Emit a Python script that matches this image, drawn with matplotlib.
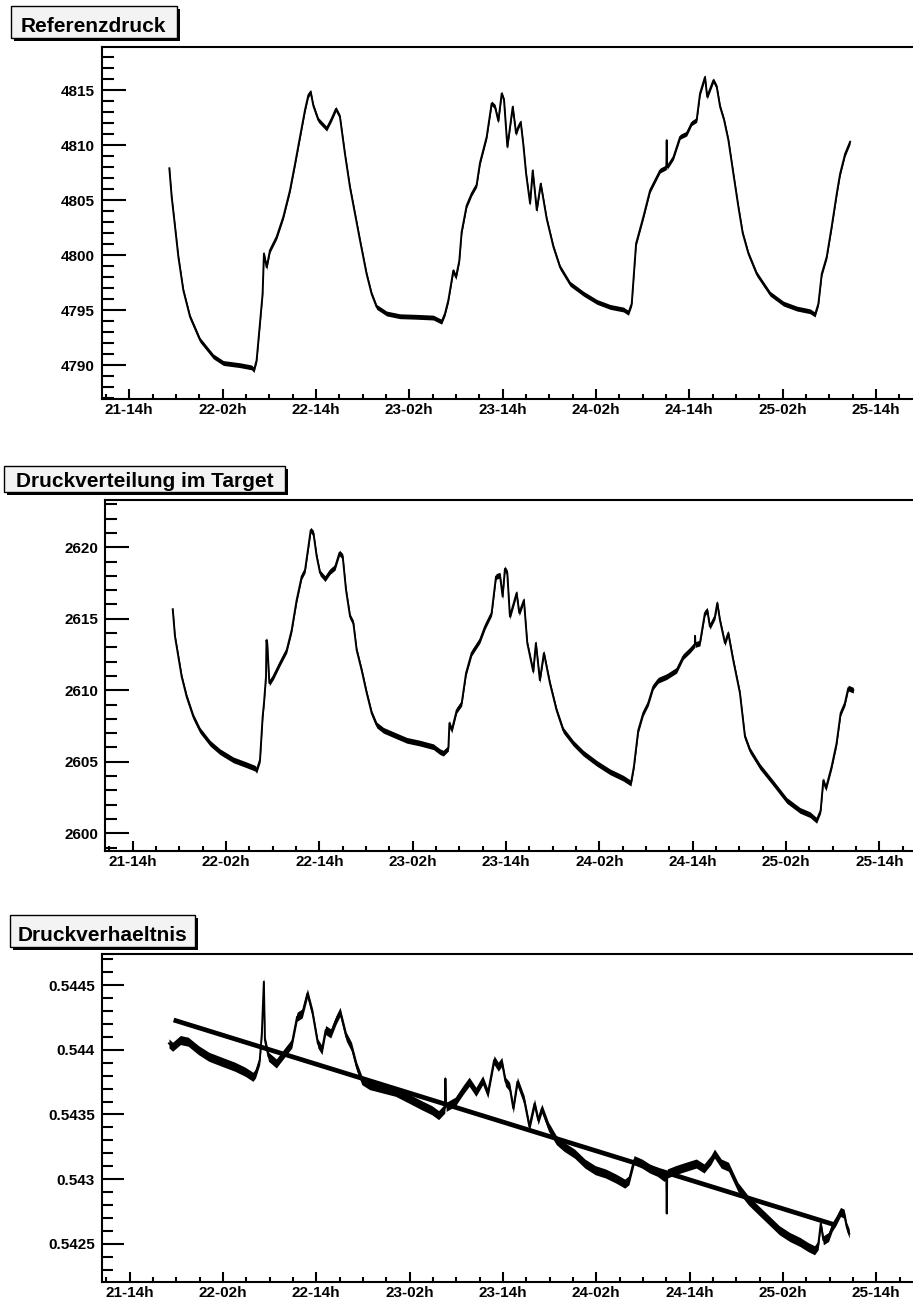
import numpy as np
import matplotlib
matplotlib.use("Agg")
import matplotlib.pyplot as plt
import matplotlib.patches as patches
from matplotlib.ticker import MultipleLocator, FixedLocator, FuncFormatter

plt.rcParams['font.family'] = ['Liberation Sans', 'DejaVu Sans']
plt.rcParams['font.weight'] = 'bold'

# time axis in hours counted from day 21, 00:00
time_ticks = [14, 26, 38, 50, 62, 74, 86, 98, 110]
time_labels = ["21-14h", "22-02h", "22-14h", "23-02h", "23-14h",
               "24-02h", "24-14h", "25-02h", "25-14h"]

# Referenzdruck
ref_t = [19.15, 19.45, 19.88, 20.31, 20.95, 21.81, 23.09, 24.8, 26.09, 28.23,
         29.73, 30.03, 30.37, 30.8, 31.14, 31.31, 31.66, 32.09, 32.95, 33.81,
         34.66, 35.31, 35.95, 36.59, 37.02, 37.32, 37.66, 38.3, 39.37, 40.01,
         40.57, 41.08, 41.73, 42.37, 43.01, 43.65, 44.51, 45.15, 45.8, 47.08,
         48.8, 50.94, 53.08, 54.16, 54.59, 55.02, 55.66, 56.0, 56.43, 56.73,
         57.37, 58.02, 58.66, 59.09, 59.95, 60.59, 61.02, 61.45, 61.88, 62.18,
         62.61, 63.3, 63.73, 64.03, 64.33, 64.67, 65.02, 65.53, 65.87, 66.39,
         66.9, 67.67, 68.53, 69.39, 70.67, 72.39, 74.1, 75.82, 77.53, 78.18,
         78.6, 79.16, 80.1, 80.96, 81.6, 82.25, 83.05, 83.1, 83.15, 83.96,
         84.82, 85.67, 86.3, 86.95, 87.38, 88.02, 88.3, 89.1, 89.53, 89.96,
         90.47, 91.03, 91.67, 92.31, 92.87, 93.6, 94.67, 96.38, 98.1, 99.81,
         101.53, 102.17, 102.6, 103.03, 103.67, 104.31, 104.96, 105.39, 106.03, 106.67]
ref_p = [4807.9, 4805.3, 4802.6, 4799.85, 4796.8, 4794.4, 4792.3, 4790.8, 4790.2, 4790.0,
         4789.8, 4789.55, 4790.45, 4793.8, 4796.5, 4800.15, 4798.9, 4800.45, 4801.67, 4803.5,
         4805.9, 4808.3, 4810.76, 4813.2, 4814.55, 4814.85, 4813.6, 4812.3, 4811.5, 4812.4,
         4813.3, 4812.6, 4809.2, 4806.2, 4803.8, 4801.4, 4798.3, 4796.5, 4795.3, 4794.7,
         4794.45, 4794.4, 4794.33, 4793.95, 4794.7, 4795.9, 4798.6, 4798.0, 4799.5, 4802.1,
         4804.5, 4805.6, 4806.4, 4808.4, 4810.76, 4813.8, 4813.5, 4812.2, 4814.7, 4814.1,
         4809.85, 4813.5, 4811.06, 4811.7, 4812.1, 4810.0, 4807.4, 4804.7, 4807.7, 4804.1,
         4806.5, 4803.3, 4800.76, 4798.9, 4797.4, 4796.5, 4795.76, 4795.3, 4795.06, 4794.76,
         4795.6, 4801.06, 4803.5, 4805.9, 4806.8, 4807.7, 4808.0, 4810.45, 4808.0, 4808.9,
         4810.76, 4811.06, 4812.0, 4812.3, 4814.7, 4816.2, 4814.4, 4815.9, 4815.3, 4813.5,
         4812.3, 4810.45, 4807.4, 4804.4, 4802.0, 4800.15, 4798.3, 4796.5, 4795.6, 4795.15,
         4794.9, 4794.6, 4795.6, 4798.3, 4799.85, 4802.6, 4805.6, 4807.4, 4809.2, 4810.3]

# Druckverteilung im Target
tgt_t = [19.15, 19.44, 19.87, 20.3, 20.94, 21.8, 22.65, 23.94, 25.22, 26.94,
         28.65, 29.72, 29.94, 30.37, 30.71, 30.88, 31.14, 31.2, 31.3, 31.57,
         32.09, 32.94, 33.8, 34.44, 35.08, 35.73, 36.16, 36.59, 36.89, 37.24,
         37.66, 38.09, 38.73, 39.37, 40.02, 40.58, 41.0, 41.43, 41.95, 42.37,
         42.8, 43.44, 44.09, 44.73, 45.37, 46.23, 47.51, 49.23, 50.94, 52.66,
         53.51, 53.94, 54.59, 54.72, 55.02, 55.66, 56.3, 56.86, 57.58, 58.65,
         59.3, 60.15, 60.71, 61.22, 61.56, 61.86, 62.16, 62.5, 63.36, 63.7,
         64.3, 64.73, 65.5, 65.84, 66.35, 66.87, 67.64, 68.5, 69.36, 70.64,
         71.93, 73.64, 75.36, 77.07, 78.06, 78.44, 79.0, 79.64, 80.28, 80.93,
         81.57, 82.64, 83.93, 84.78, 85.64, 86.28, 86.3, 86.35, 86.93, 87.57,
         87.87, 88.21, 88.86, 89.16, 89.5, 90.14, 90.57, 91.21, 92.07, 92.72,
         93.36, 94.65, 96.36, 98.08, 99.79, 101.08, 101.93, 102.45, 102.79, 103.13,
         103.86, 104.5, 105.02, 105.57, 106.0, 106.65]
tgt_p = [2615.66, 2613.75, 2612.35, 2610.95, 2609.55, 2608.15, 2607.2, 2606.3, 2605.7, 2605.13,
         2604.78, 2604.55, 2604.4, 2605.13, 2608.15, 2609.1, 2610.95, 2613.5, 2613.3, 2610.5,
         2610.95, 2611.9, 2612.8, 2614.2, 2616.3, 2617.95, 2618.4, 2620.04, 2621.2, 2620.97,
         2619.35, 2618.2, 2617.8, 2618.3, 2618.6, 2619.6, 2619.35, 2617.0, 2615.15, 2614.7,
         2612.8, 2611.4, 2609.8, 2608.4, 2607.57, 2607.2, 2606.9, 2606.5, 2606.3, 2606.05,
         2605.7, 2605.6, 2605.95, 2607.7, 2607.2, 2608.6, 2609.1, 2611.2, 2612.6, 2613.5,
         2614.45, 2615.4, 2617.95, 2618.05, 2616.55, 2618.5, 2618.2, 2615.15, 2616.8, 2615.4,
         2616.3, 2613.3, 2611.3, 2613.3, 2610.7, 2612.6, 2610.5, 2608.6, 2607.2, 2606.3,
         2605.6, 2604.9, 2604.3, 2603.85, 2603.5, 2604.66, 2607.2, 2608.4, 2609.1, 2610.25,
         2610.7, 2610.95, 2611.4, 2612.35, 2612.8, 2613.2, 2613.8, 2613.2, 2613.3, 2615.4,
         2615.6, 2614.45, 2615.15, 2616.1, 2614.9, 2613.3, 2614.0, 2612.1, 2609.8, 2606.75,
         2605.8, 2604.66, 2603.5, 2602.3, 2601.6, 2601.3, 2600.9, 2601.6, 2603.7, 2603.15,
         2604.66, 2606.3, 2608.4, 2609.1, 2610.15, 2610.0]

# Druckverhaeltnis
ratio_t = [19.06, 19.53, 20.53, 21.53, 22.86, 24.19, 25.86, 27.53, 28.86, 29.86,
           30.19, 30.73, 31.0, 31.26, 31.4, 31.86, 32.86, 33.86, 34.86, 35.53,
           36.2, 36.86, 37.53, 38.2, 38.73, 39.2, 39.86, 40.53, 41.06, 41.86,
           42.53, 43.2, 43.86, 44.86, 46.53, 48.2, 49.86, 51.53, 52.86, 53.73,
           54.53, 54.6, 54.7, 55.86, 56.86, 57.66, 58.53, 59.4, 60.06, 60.86,
           61.4, 61.86, 62.33, 62.86, 63.33, 63.86, 64.73, 65.4, 66.06, 66.53,
           67.0, 67.86, 68.86, 69.86, 71.2, 72.53, 73.86, 75.2, 76.53, 77.66,
           78.2, 78.86, 79.86, 80.86, 81.86, 82.73, 83.0, 83.06, 83.12, 84.2,
           85.53, 86.86, 87.86, 88.73, 89.2, 90.06, 91.0, 92.2, 93.53, 94.86,
           96.2, 97.53, 98.86, 100.2, 101.2, 102.06, 102.53, 102.86, 103.2, 103.86,
           104.33, 104.86, 105.4, 105.86, 106.2, 106.53]
ratio_r = [0.544049, 0.544023, 0.544075, 0.544062, 0.543997, 0.543946, 0.543907, 0.543869, 0.54383, 0.543791,
           0.543817, 0.54392, 0.544126, 0.544526, 0.544075, 0.543946, 0.543894, 0.543972, 0.544049, 0.544255,
           0.544281, 0.544436, 0.544281, 0.544049, 0.543997, 0.544152, 0.544126, 0.544229, 0.544294, 0.5441,
           0.544023, 0.543869, 0.543765, 0.543727, 0.543701, 0.543675, 0.543624, 0.543572, 0.543533, 0.543495,
           0.543546, 0.543778, 0.543559, 0.543598, 0.543688, 0.543753, 0.543675, 0.543765, 0.543662, 0.54392,
           0.543869, 0.543907, 0.543753, 0.543714, 0.543546, 0.543753, 0.543611, 0.543405, 0.543585, 0.543456,
           0.543546, 0.543405, 0.543302, 0.54325, 0.543198, 0.543121, 0.54307, 0.543044, 0.543005, 0.542966,
           0.542992, 0.543147, 0.543121, 0.543083, 0.543057, 0.543018, 0.543031, 0.542735, 0.543044, 0.54307,
           0.543096, 0.543121, 0.543083, 0.543147, 0.543198, 0.543121, 0.543096, 0.542941, 0.542838, 0.54276,
           0.542683, 0.542606, 0.542554, 0.542515, 0.542477, 0.542451, 0.54249, 0.542657, 0.542528, 0.542554,
           0.542631, 0.542683, 0.542747, 0.542734, 0.542631, 0.54258]

# linear fit of the ratio (p0 + p1 * t) and its drawn range
fit_p0 = 0.544596
fit_p1 = -1.8615e-5
fit_t = [19.66, 104.86]

# scatter of the readings around the trace (half width)
ref_noise = 0.22
tgt_noise = 0.2
ratio_noise = 0.000035

W, H = 913, 1303


def fig_rect(x0, y0, x1, y1):
    return [x0 / W, 1 - y1 / H, (x1 - x0) / W, (y1 - y0) / H]


def title_box(fig, text, x0, y0, x1, y1, baseline):
    shadow = patches.Rectangle(((x0 + 3) / W, 1 - (y1 + 3) / H), (x1 - x0) / W, (y1 - y0) / H,
                               transform=fig.transFigure, facecolor='black', edgecolor='none')
    box = patches.Rectangle((x0 / W, 1 - y1 / H), (x1 - x0) / W, (y1 - y0) / H,
                            transform=fig.transFigure, facecolor='#f3f3f3', edgecolor='black', lw=1.0)
    fig.add_artist(shadow)
    fig.add_artist(box)
    fig.text((x0 + x1) / 2 / W, 1 - baseline / H, text, ha='center', va='baseline',
             fontsize=15, fontweight='bold')


def style_axes(ax, xlim, ylim, ymajor, yminor, ylen, fmt):
    ax.set_xlim(*xlim)
    ax.set_ylim(*ylim)
    for side in ['top', 'left', 'bottom']:
        ax.spines[side].set_linewidth(1.5)
    ax.spines['right'].set_visible(False)

    ax.xaxis.set_major_locator(FixedLocator(time_ticks))
    ax.set_xticklabels(time_labels)
    ax.xaxis.set_minor_locator(MultipleLocator(3, offset=2))
    ax.yaxis.set_major_locator(MultipleLocator(ymajor))
    ax.yaxis.set_minor_locator(MultipleLocator(yminor))
    ax.yaxis.set_major_formatter(FuncFormatter(fmt))

    ax.tick_params(axis='x', which='major', direction='in', length=7.3, width=1.5, pad=3, labelsize=11)
    ax.tick_params(axis='x', which='minor', direction='in', length=3.7, width=1.5)
    ax.tick_params(axis='y', which='major', direction='in', length=ylen, width=1.5, pad=5, labelsize=11)
    ax.tick_params(axis='y', which='minor', direction='in', length=ylen / 2, width=1.5)
    for lab in ax.get_xticklabels() + ax.get_yticklabels():
        lab.set_fontweight('bold')


def draw_trace(ax, t, v, noise):
    t = np.asarray(t)
    v = np.asarray(v)
    ax.fill_between(t, v - noise, v + noise, color='black', lw=0)
    ax.plot(t, v, color='black', lw=1.4)


def main():
    fig = plt.figure(figsize=(W / 100, H / 100), dpi=100)

    int_fmt = lambda v, pos: f"{v:.0f}"
    g_fmt = lambda v, pos: f"{v:g}"

    # Referenzdruck
    ax1 = fig.add_axes(fig_rect(102, 47.3, 914, 399.3))
    draw_trace(ax1, ref_t, ref_p, ref_noise)
    style_axes(ax1, (10.49, 114.89), (4786.9, 4818.9), 5, 1, 17.3, int_fmt)
    title_box(fig, "Referenzdruck", 10.7, 5.7, 176.5, 37.5, 31.7)

    # Druckverteilung im Target
    ax2 = fig.add_axes(fig_rect(105, 500, 914, 851))
    draw_trace(ax2, tgt_t, tgt_p, tgt_noise)
    style_axes(ax2, (10.44, 114.45), (2598.76, 2623.3), 5, 1, 17.3, int_fmt)
    title_box(fig, "Druckverteilung im Target", 4, 466, 285, 491.7, 486.7)

    # Druckverhaeltnis with its linear fit
    ax3 = fig.add_axes(fig_rect(102, 953.7, 914, 1282))
    draw_trace(ax3, ratio_t, ratio_r, ratio_noise)
    ft = np.array(fit_t)
    ax3.plot(ft, fit_p0 + fit_p1 * ft, color='black', lw=3.4, solid_capstyle='butt')
    style_axes(ax3, (10.45, 114.85), (0.542206, 0.544742), 0.0005, 0.0001, 15.7, g_fmt)
    title_box(fig, "Druckverhaeltnis", 10, 915, 195, 946.5, 941)

    fig.savefig("out.png", dpi=100)


if __name__ == "__main__":
    main()
